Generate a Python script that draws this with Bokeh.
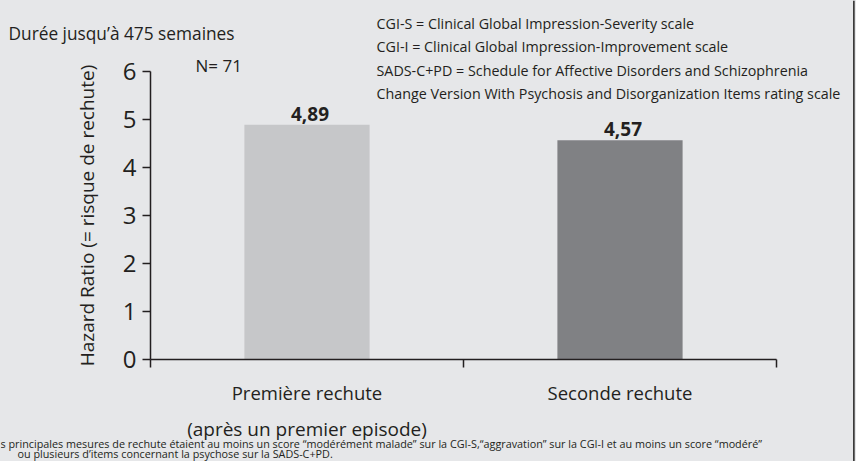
from bokeh.plotting import figure
from bokeh.models import (FixedTicker, Label, LabelSet, ColumnDataSource,
                          BoxAnnotation, Range1d)
from bokeh.core.properties import value
from bokeh.embed import file_html
from bokeh.resources import INLINE

# ---- data ----
categories = ["Première rechute", "Seconde rechute"]
hazard_ratios = [4.89, 4.57]
value_labels = ["4,89", "4,57"]
bar_colors = ["#c6c7c9", "#808184"]
y_ticks = [0, 1, 2, 3, 4, 5, 6]
sub_label = "(après un premier episode)"
title_text = "Durée jusqu’à 475 semaines"
n_text = "N= 71"
y_title = "Hazard Ratio (= risque de rechute)"
legend_lines = [
    "CGI-S = Clinical Global Impression-Severity scale",
    "CGI-I = Clinical Global Impression-Improvement scale",
    "SADS-C+PD = Schedule for Affective Disorders and Schizophrenia",
    "Change Version With Psychosis and Disorganization Items rating scale",
]
footnote_lines = [
    "s principales mesures de rechute étaient au moins un score “modérément malade” sur la CGI-S,“aggravation” sur la CGI-I et au moins un score “modéré”",
    "ou plusieurs d’items concernant la psychose sur la SADS-C+PD.",
]

BG = "#e6e7e9"
INK = "#231f20"
FONT = "Open Sans"
W, H = 856, 461

# layout geometry (pixels): axes origin and scale
X0_PX, X_UNIT = 150.0, 313.0      # x=0 at 150 px, one category = 313 px
Y0_PX, Y_UNIT = 359.0, 48.0       # y=0 at 359 px from top, 48 px per unit
n_cat = len(categories)

x_pos = [i + 0.5 for i in range(n_cat)]
src = ColumnDataSource(dict(x=x_pos, top=hazard_ratios, label=value_labels, color=bar_colors))

p = figure(width=W, height=H,
           x_range=Range1d(-X0_PX / X_UNIT, (W - X0_PX) / X_UNIT),
           y_range=Range1d(-(H - Y0_PX) / Y_UNIT, Y0_PX / Y_UNIT),
           output_backend="svg", toolbar_location=None,
           min_border_left=0, min_border_right=0, min_border_top=0, min_border_bottom=0)
p.background_fill_color = BG
p.border_fill_color = BG
p.outline_line_color = None
p.grid.visible = False

p.vbar(x="x", top="top", bottom=0, width=0.4, color="color", line_color=None, source=src)

p.add_layout(LabelSet(x="x", y="top", text="label", source=src, text_align="center",
                      text_baseline="alphabetic", y_offset=4, x_offset=3,
                      text_font=value(FONT), text_font_style="bold",
                      text_font_size="19px", text_color=INK))

# x axis
xa = p.xaxis[0]
xa.fixed_location = 0
xa.bounds = (0, n_cat)
xa.ticker = FixedTicker(ticks=x_pos, minor_ticks=list(range(n_cat + 1)))
xa.major_label_overrides = {x: c for x, c in zip(x_pos, categories)}
xa.major_tick_line_color = None
xa.major_tick_out = 0
xa.major_tick_in = 0
xa.minor_tick_out = 8
xa.minor_tick_in = 0
xa.minor_tick_line_color = INK
xa.minor_tick_line_width = 1.5
xa.axis_line_color = INK
xa.axis_line_width = 1.5
xa.major_label_text_font = FONT
xa.major_label_text_font_size = "18.5px"
xa.major_label_text_color = INK
xa.major_label_standoff = 12

# y axis
ya = p.yaxis[0]
ya.fixed_location = 0
ya.bounds = (0, 6)
ya.ticker = FixedTicker(ticks=y_ticks)
ya.minor_tick_line_color = None
ya.major_tick_out = 8
ya.major_tick_in = 0
ya.major_tick_line_color = INK
ya.major_tick_line_width = 1.5
ya.axis_line_color = INK
ya.axis_line_width = 1.5
ya.major_label_text_font = FONT
ya.major_label_text_font_size = "24px"
ya.major_label_text_color = INK
ya.major_label_standoff = 6
ya.axis_label = y_title
ya.axis_label_text_font = FONT
ya.axis_label_text_font_size = "19px"
ya.axis_label_text_font_style = "normal"
ya.axis_label_text_color = INK
ya.axis_label_standoff = 20

def add_text(text, x, y, size, x_units="canvas", align="left"):
    p.add_layout(Label(x=x, y=y, x_units=x_units, y_units="canvas", text=text,
                       text_font=FONT, text_font_size=size, text_color=INK,
                       text_align=align, text_baseline="alphabetic"))

add_text(title_text, 8, 33, "17.3px")
add_text(n_text, 195, 65, "17px")
for i, line in enumerate(legend_lines):
    add_text(line, 376, 23 + i * 23.4, "14.3px")
add_text(sub_label, x_pos[0], 428, "19px", x_units="data", align="center")
add_text(footnote_lines[0], 0, 442.5, "10.8px")
add_text(footnote_lines[1], 17, 453, "10.8px")

p.add_layout(BoxAnnotation(left=852.5, right=854.2, top=0, bottom=H,
                           left_units="canvas", right_units="canvas",
                           top_units="canvas", bottom_units="canvas",
                           fill_color="#3a3a3a", fill_alpha=1, line_color=None))

html = file_html(p, INLINE)
html = html.replace("</head>", "<style>html,body{margin:0;padding:0;background:%s;overflow:hidden}</style></head>" % BG, 1)
open("out.html", "w").write(html)
